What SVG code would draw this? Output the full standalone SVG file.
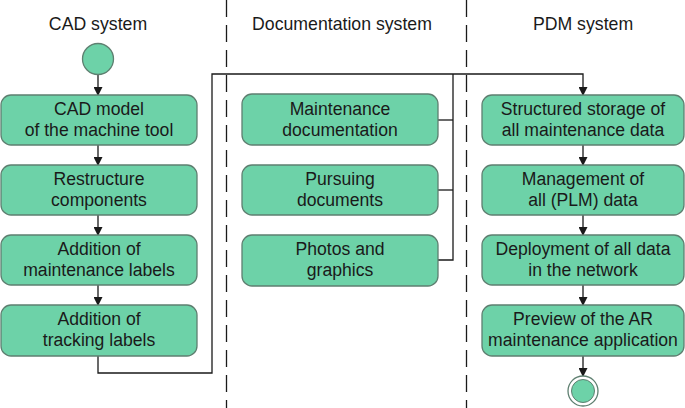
<svg xmlns="http://www.w3.org/2000/svg" width="685" height="408" viewBox="0 0 685 408">
<defs>
<style>
.box{fill:#6dd2a8;stroke:#5e7f70;stroke-width:1.3}
.t{font-family:"Liberation Sans",Arial,sans-serif;font-size:17.6px;fill:#1a1a1a;text-anchor:middle}
.h{font-family:"Liberation Sans",Arial,sans-serif;font-size:17.7px;fill:#1a1a1a;text-anchor:middle}
.ln{fill:none;stroke:#1a1a1a;stroke-width:1.3}
.lane{stroke:#1a1a1a;stroke-width:1.3;stroke-dasharray:17 8}
</style>
<marker id="ar" markerWidth="9" markerHeight="9" refX="8" refY="4.5" orient="auto" markerUnits="userSpaceOnUse">
<path d="M0,0 L9,4.5 L0,9 Z" fill="#1a1a1a"/>
</marker>
</defs>
<g id="lanes">
<line class="lane" x1="226.5" y1="0" x2="226.5" y2="408"/>
<line class="lane" x1="466.5" y1="0" x2="466.5" y2="408"/>
</g>
<g id="headers">
<text class="h" x="98" y="30">CAD system</text>
<text class="h" x="342" y="30">Documentation system</text>
<text class="h" x="583" y="30">PDM system</text>
</g>
<g id="connectors">
<line class="ln" x1="98" y1="74" x2="98" y2="95" marker-end="url(#ar)"/>
<line class="ln" x1="98" y1="145" x2="98" y2="165" marker-end="url(#ar)"/>
<line class="ln" x1="98" y1="215" x2="98" y2="235" marker-end="url(#ar)"/>
<line class="ln" x1="98" y1="285" x2="98" y2="305" marker-end="url(#ar)"/>
<polyline class="ln" points="98,356 98,373 212,373 212,74 583,74 583,95" marker-end="url(#ar)"/>
<polyline class="ln" points="438,120 453,120"/>
<polyline class="ln" points="438,190 453,190"/>
<polyline class="ln" points="438,260 453,260 453,74"/>
<line class="ln" x1="583" y1="145" x2="583" y2="165" marker-end="url(#ar)"/>
<line class="ln" x1="583" y1="215" x2="583" y2="235" marker-end="url(#ar)"/>
<line class="ln" x1="583" y1="285" x2="583" y2="305" marker-end="url(#ar)"/>
<line class="ln" x1="583" y1="356" x2="583" y2="376" marker-end="url(#ar)"/>
</g>
<g id="start"><circle cx="98" cy="59" r="15.5" class="box"/></g>
<g id="cad1"><rect class="box" x="1" y="95" width="196" height="50" rx="10"/><text class="t" x="99" y="115">CAD model</text><text class="t" x="99" y="136">of the machine tool</text></g>
<g id="cad2"><rect class="box" x="1" y="165" width="196" height="50" rx="10"/><text class="t" x="99" y="185">Restructure</text><text class="t" x="99" y="206">components</text></g>
<g id="cad3"><rect class="box" x="1" y="235" width="196" height="50" rx="10"/><text class="t" x="99" y="255">Addition of</text><text class="t" x="99" y="276">maintenance labels</text></g>
<g id="cad4"><rect class="box" x="1" y="305" width="196" height="51" rx="10"/><text class="t" x="99" y="325">Addition of</text><text class="t" x="99" y="346">tracking labels</text></g>
<g id="doc1"><rect class="box" x="242" y="94" width="196" height="51" rx="10"/><text class="t" x="340" y="115">Maintenance</text><text class="t" x="340" y="136">documentation</text></g>
<g id="doc2"><rect class="box" x="242" y="165" width="196" height="50" rx="10"/><text class="t" x="340" y="185">Pursuing</text><text class="t" x="340" y="206">documents</text></g>
<g id="doc3"><rect class="box" x="242" y="235" width="196" height="51" rx="10"/><text class="t" x="340" y="255">Photos and</text><text class="t" x="340" y="276">graphics</text></g>
<g id="pdm1"><rect class="box" x="482" y="95" width="202" height="50" rx="10"/><text class="t" x="583" y="115">Structured storage of</text><text class="t" x="583" y="136">all maintenance data</text></g>
<g id="pdm2"><rect class="box" x="482" y="165" width="202" height="50" rx="10"/><text class="t" x="583" y="185">Management of</text><text class="t" x="583" y="206">all (PLM) data</text></g>
<g id="pdm3"><rect class="box" x="482" y="235" width="202" height="50" rx="10"/><text class="t" x="583" y="255">Deployment of all data</text><text class="t" x="583" y="276">in the network</text></g>
<g id="pdm4"><rect class="box" x="482" y="305" width="202" height="51" rx="10"/><text class="t" x="583" y="325">Preview of the AR</text><text class="t" x="583" y="346">maintenance application</text></g>
<g id="end"><circle cx="583" cy="391" r="15" fill="#fff" stroke="#5e7f70" stroke-width="1.3"/><circle cx="583" cy="391" r="11.5" fill="#6dd2a8" stroke="#5e7f70" stroke-width="1"/></g>
</svg>
